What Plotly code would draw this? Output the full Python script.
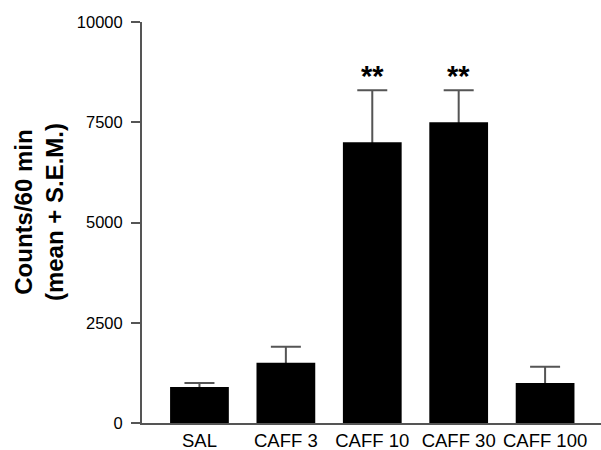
import plotly.graph_objects as go

# Locomotor activity per treatment group
groups = ["SAL", "CAFF 3", "CAFF 10", "CAFF 30", "CAFF 100"]
mean_counts = [900, 1500, 7000, 7500, 1000]
sem_counts = [100, 400, 1300, 800, 400]
significance = ["", "", "**", "**", ""]
y_ticks = [0, 2500, 5000, 7500, 10000]
y_tick_labels = ["0", "2500", "5000", "7500", "10000"]
y_title = "Counts/60 min<br>(mean + S.E.M.)"

axis_color = "#555555"
font_family = "Liberation Sans, Arial, Helvetica, sans-serif"
y_range = [0, 10000]

fig = go.Figure()

# S.E.M. whiskers on the base axis; the bars sit on an overlaying axis so
# they cover the lower half of each whisker.
fig.add_trace(go.Scatter(
    x=groups,
    y=mean_counts,
    mode="markers",
    marker=dict(size=0.1, color="rgba(0,0,0,0)"),
    error_y=dict(
        type="data",
        array=sem_counts,
        symmetric=True,
        color=axis_color,
        thickness=2,
        width=15,
    ),
    hoverinfo="skip",
    showlegend=False,
    yaxis="y",
))

fig.add_trace(go.Bar(
    x=groups,
    y=mean_counts,
    width=0.68,
    marker=dict(color="black", line=dict(width=0)),
    showlegend=False,
    yaxis="y2",
))

# Significance markers above the error bars
for g, m, s, mark in zip(groups, mean_counts, sem_counts, significance):
    if mark:
        fig.add_annotation(
            x=g, y=m + s, text="<b>" + mark + "</b>", showarrow=False,
            yanchor="bottom", yshift=-4,
            font=dict(family=font_family, size=29, color="black"),
        )

# Axis title
fig.add_annotation(
    xref="paper", yref="paper", x=0, y=0.526,
    xanchor="center", yanchor="middle", xshift=-103,
    text="<b>" + y_title + "</b>", textangle=-90, showarrow=False,
    font=dict(family=font_family, size=24, color="black"),
)

fig.update_layout(
    width=601, height=450,
    margin=dict(l=142, r=0, t=22, b=27),
    paper_bgcolor="white",
    plot_bgcolor="white",
    font=dict(family=font_family, size=17, color="black"),
    yaxis2=dict(
        overlaying="y", range=y_range, visible=False,
        showgrid=False, zeroline=False,
    ),
)

fig.update_xaxes(
    type="category",
    range=[-0.665, 4.647],
    showline=True, linecolor=axis_color, linewidth=2,
    ticks="", showgrid=False, zeroline=False,
    tickfont=dict(size=18.5, color="black"),
)

fig.update_yaxes(
    selector=dict(overlaying=None),
    range=y_range,
    tickvals=y_ticks,
    ticktext=y_tick_labels,
    showline=True, linecolor=axis_color, linewidth=2,
    ticks="outside", ticklen=9, tickwidth=2, tickcolor=axis_color,
    ticklabelstandoff=5,
    showgrid=False, zeroline=False,
    tickfont=dict(size=16.5, color="black"),
)

fig.write_html("out.html")
